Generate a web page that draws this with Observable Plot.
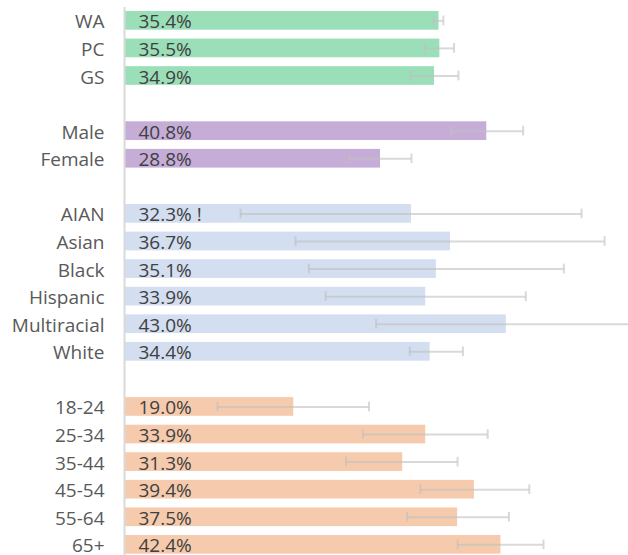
<!DOCTYPE html>
<html>
<head>
<meta charset="utf-8">
<script src="https://cdn.jsdelivr.net/npm/d3@7"></script>
<script src="https://cdn.jsdelivr.net/npm/@observablehq/plot@0.6"></script>
<style>
  html, body { margin: 0; padding: 0; background: #fff; }
  #chart svg { display: block; }
</style>
</head>
<body>
<div id="chart"></div>
<script>
// ---- data ----
const categories = ["WA","PC","GS","Male","Female","AIAN","Asian","Black","Hispanic","Multiracial","White","18-24","25-34","35-44","45-54","55-64","65+"];
const groupOf    = [0,0,0,1,1,2,2,2,2,2,2,3,3,3,3,3,3];
const values     = [35.4,35.5,34.9,40.8,28.8,32.3,36.7,35.1,33.9,43.0,34.4,19.0,33.9,31.3,39.4,37.5,42.4];
const lower      = [34.8,33.8,32.2,36.8,25.3,13.0,19.2,20.7,22.6,28.3,32.1,10.4,26.8,24.9,33.3,31.8,37.5];
const upper      = [35.9,37.1,37.6,44.9,32.3,51.5,54.1,49.5,45.2,58.5,38.1,27.5,40.9,37.5,45.6,43.3,47.2];
const valueLabels = ["35.4%","35.5%","34.9%","40.8%","28.8%","32.3% !","36.7%","35.1%","33.9%","43.0%","34.4%","19.0%","33.9%","31.3%","39.4%","37.5%","42.4%"];
const groupColors = ["#9bdfb9","#c5add8","#d3def1","#f6cbad"];

// ---- build table ----
const rows = categories.map((c, i) => ({
  cat: c, group: groupOf[i], value: values[i], lo: lower[i], hi: upper[i],
  label: valueLabels[i], color: groupColors[groupOf[i]]
}));
const domain = [];
categories.forEach((c, i) => {
  if (i > 0 && groupOf[i] !== groupOf[i - 1]) domain.push("gap" + groupOf[i]);
  domain.push(c);
});

const font = "'Open Sans', sans-serif";

const chart = Plot.plot({
  width: 628,
  height: 555,
  marginLeft: 125,
  marginRight: 0,
  marginTop: 7,
  marginBottom: 0,
  style: { fontFamily: font, background: "#fff" },
  x: { domain: [0, 56.8], axis: null },
  y: { domain, axis: null, range: [11, 553.7], paddingInner: 0.322, paddingOuter: 0, round: false },
  color: { type: "identity" },
  marks: [
    Plot.barX(rows, { x: "value", y: "cat", fill: "color" }),
    Plot.ruleY(rows, { x1: "lo", x2: "hi", y: "cat", stroke: "#bfbfbf", strokeOpacity: 0.6, strokeWidth: 2, clip: true }),
    Plot.tickX(rows, { x: "lo", y: "cat", stroke: "#bfbfbf", strokeOpacity: 0.6, strokeWidth: 2, insetTop: 4.5, insetBottom: 4.5, clip: true }),
    Plot.tickX(rows, { x: "hi", y: "cat", stroke: "#bfbfbf", strokeOpacity: 0.6, strokeWidth: 2, insetTop: 4.5, insetBottom: 4.5, clip: true }),
    Plot.ruleX([0], { stroke: "#d9d9d9", strokeWidth: 2, dx: -1 }),
    Plot.text(rows, { x: 0, y: "cat", text: "cat", textAnchor: "end", dx: -21, dy: 1.4, fill: "#595959", fontSize: 19 }),
    Plot.text(rows, { x: 0, y: "cat", text: "label", textAnchor: "start", dx: 13, dy: 1.4, fill: "#404040", fontSize: 19 })
  ]
});
document.getElementById("chart").appendChild(chart);
</script>
</body>
</html>
